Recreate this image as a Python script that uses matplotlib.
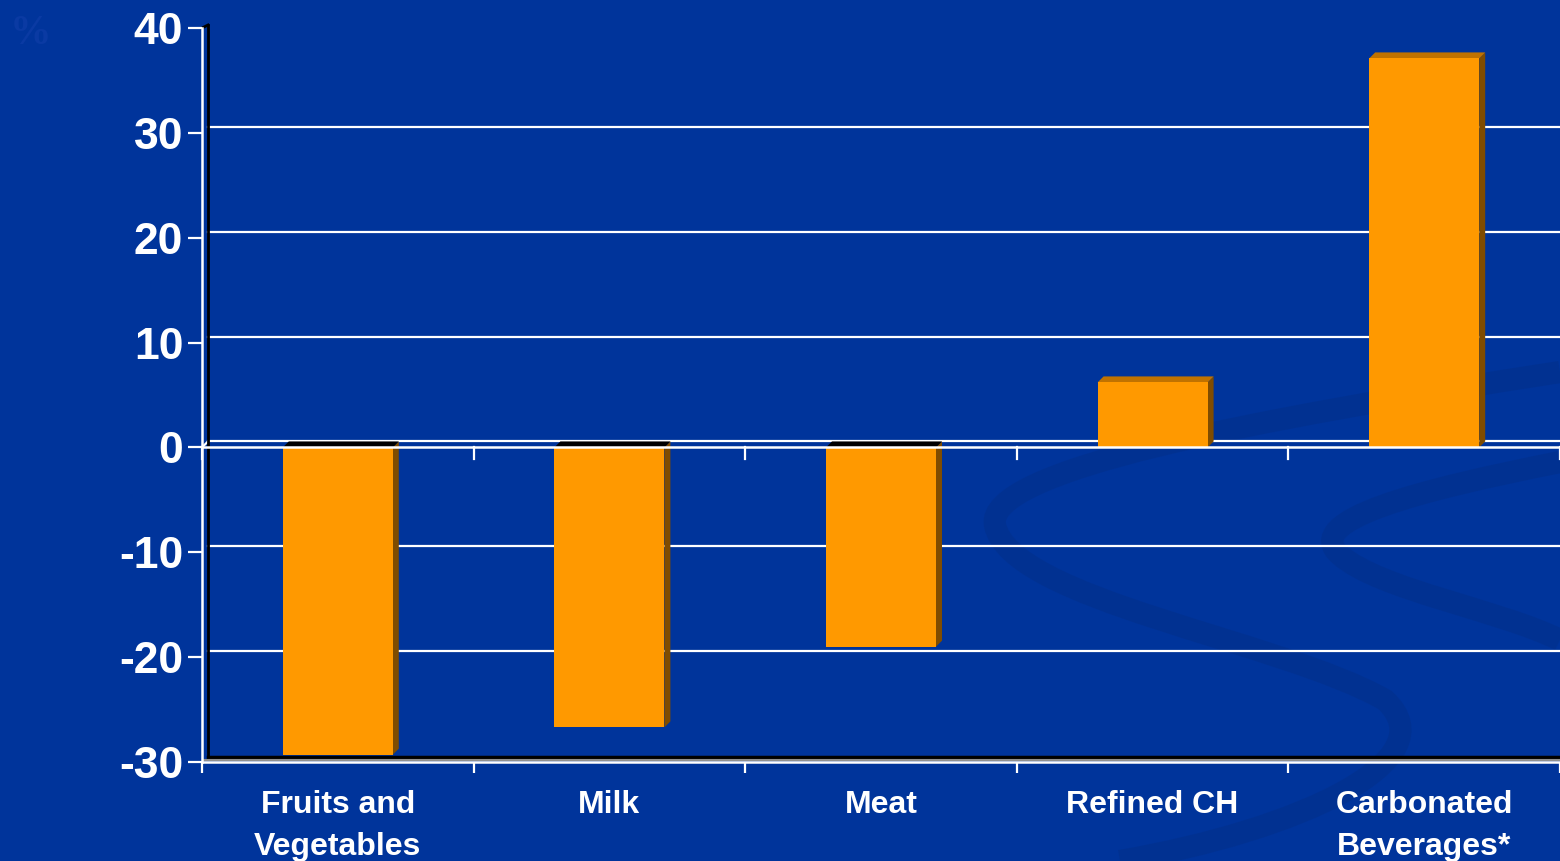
import numpy as np
import matplotlib.pyplot as plt
from matplotlib.patches import Polygon, PathPatch
from matplotlib.path import Path

plt.rcParams['font.family'] = ['Liberation Sans', 'DejaVu Sans']
plt.rcParams['font.weight'] = 'bold'
plt.rcParams['axes.unicode_minus'] = False

# Change in consumption by food group (%)
categories = ['Fruits and\nVegetables', 'Milk', 'Meat', 'Refined CH', 'Carbonated\nBeverages*']
values = [-29.3, -26.7, -19.0, 6.2, 37.1]
yticks = [-30, -20, -10, 0, 10, 20, 30, 40]

BG = '#00349b'
FRONT = '#ff9900'
SIDE = '#7f4c00'
TOP = '#c07200'
W, H = 1560, 861

fig = plt.figure(figsize=(W / 100, H / 100), dpi=100)
fig.patch.set_facecolor(BG)


def px(x, y):
    # pixel position (from top-left) -> figure fraction
    return (x / W, 1 - y / H)


# faint swooshes in the background
swoosh = '#02318f'
bands = [
    [(1560, 372), (1250, 420), (985, 470), (995, 525),
     (1010, 600), (1280, 640), (1385, 700),
     (1450, 760), (1300, 830), (1120, 861)],
    [(1560, 462), (1420, 490), (1300, 520), (1340, 555),
     (1380, 590), (1500, 610), (1560, 640)],
]
for pts in bands:
    codes = [Path.MOVETO] + [Path.CURVE4] * (len(pts) - 1)
    path = Path([px(*p) for p in pts], codes)
    fig.add_artist(PathPatch(path, transform=fig.transFigure, facecolor='none',
                             edgecolor=swoosh, lw=16, alpha=0.8, zorder=0,
                             capstyle='butt'))

fig.text(*px(10, 44), '%', color='#0a3aa3', fontsize=30, family='Liberation Serif',
         fontweight='bold', va='baseline', ha='left')

ax = fig.add_axes([202 / W, 1 - 762 / H, 1 - 202 / W, (762 - 28) / H])
ax.set_facecolor('none')
ax.set_xlim(-0.5, len(categories) - 0.5)
ax.set_ylim(-30, 40)

# depth of the 3D look, 6 px right and up
p0 = ax.transData.transform((0, 0))
p1 = ax.transData.transform((1, 1))
dx = 6 / (p1[0] - p0[0])
dy = 6 / (p1[1] - p0[1])
x0, x1 = -0.5, len(categories) - 0.5

# back wall gridlines
for t in yticks[1:-1]:
    ax.plot([x0 + dx, x1], [t + dy, t + dy], color='white', lw=1.6, zorder=1,
            clip_on=False)
ax.plot([x0, x0 + dx], [0, dy], color='white', lw=1.6, zorder=1)
# back wall edges
ax.plot([x0 + dx, x0 + dx], [-30 + dy, 40 + dy * 0.5], color='black', lw=2, zorder=1,
        clip_on=False)
ax.plot([x0 + dx, x1], [-30 + dy * 0.9, -30 + dy * 0.9], color='black', lw=2.5, zorder=1)
ax.plot([x0 + dx * 0.3, x1], [-30 + dy * 0.4, -30 + dy * 0.4], color='#909090', lw=1.5,
        zorder=1)
ax.plot([x0, x0 + dx], [40, 40 + dy * 0.5], color='black', lw=2, zorder=1, clip_on=False)

# bars with side and top faces
bw = 0.405
for i, v in enumerate(values):
    left, right = i - bw / 2, i + bw / 2
    lo, hi = min(0, v), max(0, v)
    ax.bar(i, v, width=bw, color=FRONT, zorder=3)
    ax.add_patch(Polygon([(right, lo), (right + dx, lo + dy), (right + dx, hi + dy),
                          (right, hi)], closed=True, facecolor=SIDE, zorder=2))
    top_col = TOP if v > 0 else 'black'
    ax.add_patch(Polygon([(left, hi), (left + dx, hi + dy), (right + dx, hi + dy),
                          (right, hi)], closed=True, facecolor=top_col, zorder=2))

# front zero line with category ticks
ax.axhline(0, color='white', lw=1.8, zorder=4)
bounds = np.arange(len(categories) + 1) - 0.5
for b in bounds:
    ax.plot([b, b], [0, -1.1], color='white', lw=1.6, zorder=4, clip_on=False)

for s in ['top', 'right']:
    ax.spines[s].set_visible(False)
for s in ['left', 'bottom']:
    ax.spines[s].set_color('white')
    ax.spines[s].set_linewidth(1.8)

ax.set_yticks(yticks)
ax.tick_params(axis='y', colors='white', length=10, width=1.6, pad=3.5, labelsize=32)
ax.set_xticks(range(len(categories)))
ax.set_xticklabels(categories, linespacing=1.5)
ax.set_xticks(bounds, minor=True)
ax.tick_params(axis='x', which='major', length=0, pad=20.5, colors='white', labelsize=23)
ax.tick_params(axis='x', which='minor', length=8, width=1.6, color='white')

fig.savefig('out.png', dpi=100, facecolor=BG)
